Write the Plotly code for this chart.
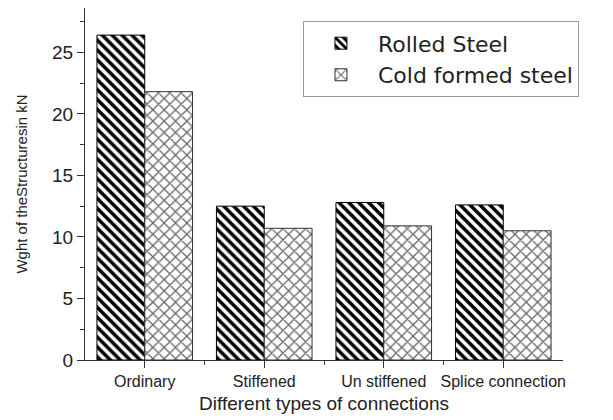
import plotly.graph_objects as go

categories = ["Ordinary", "Stiffened", "Un stiffened", "Splice connection"]
rolled_steel = [26.4, 12.5, 12.8, 12.6]
cold_formed = [21.8, 10.7, 10.9, 10.5]
y_ticks = [0, 5, 10, 15, 20, 25]

xpos = list(range(len(categories)))
FONT = "Liberation Sans, Arial, sans-serif"

fig = go.Figure()
fig.add_trace(go.Bar(
    x=xpos, y=rolled_steel, name="Rolled Steel",
    marker=dict(color="white", line=dict(color="black", width=1),
                pattern=dict(shape="\\", fgcolor="black", bgcolor="white",
                             size=7, solidity=0.5, fgopacity=1)),
))
fig.add_trace(go.Bar(
    x=xpos, y=cold_formed, name="Cold formed steel",
    marker=dict(color="white", line=dict(color="#333", width=1),
                pattern=dict(shape="x", fgcolor="#666", bgcolor="white",
                             size=8, solidity=0.3, fgopacity=1)),
))

fig.update_layout(
    width=613, height=420,
    margin=dict(l=85, r=50, t=8, b=60),
    paper_bgcolor="white", plot_bgcolor="white",
    barmode="group", bargap=0.2, bargroupgap=0,
    font=dict(family=FONT, color="#222"),
    showlegend=True,
    legend=dict(x=0.456, y=0.962, xanchor="left", yanchor="top",
                bgcolor="white", bordercolor="#999", borderwidth=1,
                font=dict(size=22, family="DejaVu Sans, sans-serif", color="#222"),
                tracegroupgap=0, itemwidth=64),
    xaxis=dict(range=[-0.5, 3.5], tickvals=xpos, ticktext=categories,
               showgrid=False, zeroline=False, showline=True,
               linecolor="#333", linewidth=1.2,
               ticks="outside", ticklen=7, tickcolor="#333",
               tickfont=dict(size=16),
               minor=dict(tickvals=[0.5, 1.5, 2.5], ticks="outside",
                          ticklen=4, tickcolor="#333"),
               title=dict(text="Different types of connections",
                          font=dict(size=19), standoff=7)),
    yaxis=dict(range=[0, 28.6], tickvals=y_ticks,
               showgrid=False, zeroline=False, showline=True,
               linecolor="#333", linewidth=1.2,
               ticks="outside", ticklen=7, tickcolor="#333",
               tickfont=dict(size=19),
               minor=dict(dtick=2.5, ticks="outside", ticklen=4,
                          tickcolor="#333"),
               title=dict(text="Wght of theStructuresin kN",
                          font=dict(size=15), standoff=20)),
)

fig.write_html("out.html", config={"displayModeBar": False},
               post_script="document.body.style.margin='0';")
